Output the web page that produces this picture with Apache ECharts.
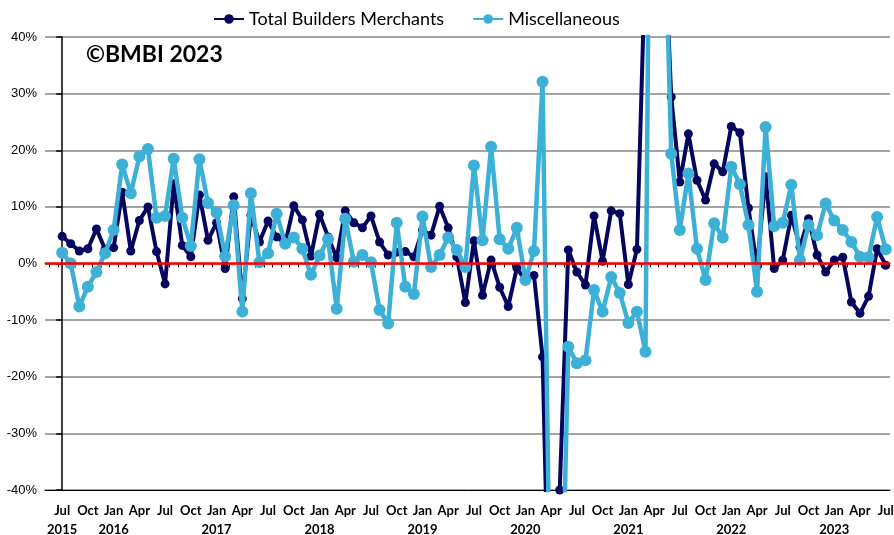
<!DOCTYPE html>
<html>
<head>
<meta charset="utf-8">
<script src="https://cdn.jsdelivr.net/npm/echarts@6/dist/echarts.min.js"></script>
<style>
  html, body { margin: 0; padding: 0; background: #fff; }
  #chart { width: 894px; height: 535px; }
</style>
</head>
<body>
<div id="chart"></div>
<script>
// month names, first point is Jul 2015
const monthNames = ['Jul', 'Aug', 'Sep', 'Oct', 'Nov', 'Dec', 'Jan', 'Feb', 'Mar', 'Apr', 'May', 'Jun']
const firstYear = 2015
const yTicks = [-40, -30, -20, -10, 0, 10, 20, 30, 40]

// year-on-year change, %
const totalBM = [
  4.8, 3.5, 2.2, 2.6, 6.1, 2.5, 2.8, 12.6, 2.2, 7.6, 10.0, 2.1,
  -3.6, 14.1, 3.2, 1.2, 12.1, 4.1, 7.2, -0.9, 11.8, -6.2, 8.5, 3.8,
  7.5, 4.7, 3.5, 10.2, 7.7, 1.3, 8.7, 4.7, 1.0, 9.3, 7.2, 6.3,
  8.4, 3.8, 1.5, 2.0, 2.1, 1.2, 5.9, 5.0, 10.1, 6.3, 1.2, -6.9,
  4.0, -5.6, 0.6, -4.2, -7.6, -0.8, -3.0, -2.1, -16.5, -80, -40, 2.4,
  -1.5, -3.8, 8.4, 0.4, 9.3, 8.8, -3.7, 2.5, 55, 250, 65, 29.4,
  14.4, 22.9, 14.7, 11.2, 17.6, 16.2, 24.2, 23.1, 9.8, -0.5, 15.3, -0.9,
  0.6, 8.5, 2.9, 7.9, 1.5, -1.5, 0.6, 1.1, -6.8, -8.8, -5.8, 2.6,
  -0.3
]
const misc = [
  1.9, 0.0, -7.6, -4.1, -1.5, 1.8, 5.9, 17.5, 12.4, 18.9, 20.2, 8.1,
  8.4, 18.5, 8.1, 3.1, 18.4, 10.7, 9.0, 1.3, 10.3, -8.5, 12.4, 0.2,
  1.8, 8.8, 3.5, 4.6, 2.6, -2.0, 1.4, 4.3, -8.0, 7.9, 0.3, 1.5,
  0.2, -8.2, -10.6, 7.2, -4.1, -5.4, 8.3, -0.6, 1.5, 4.6, 2.4, -0.6,
  17.3, 4.1, 20.6, 4.3, 2.6, 6.3, -2.9, 2.2, 32.1, -75, -80, -14.7,
  -17.6, -17.1, -4.7, -8.5, -2.4, -5.2, -10.5, -8.5, -15.6, 170, 75, 19.4,
  5.9, 15.9, 2.6, -2.9, 7.1, 4.6, 17.1, 14.0, 6.8, -5.0, 24.1, 6.6,
  7.2, 13.9, 0.6, 6.8, 5.0, 10.6, 7.6, 5.9, 3.8, 1.2, 1.1, 8.2,
  2.5
]

const categories = totalBM.map((_, i) => monthNames[i % 12] + ' ' + (firstYear + Math.floor((i + 6) / 12)))

const chart = echarts.init(document.getElementById('chart'))

const option = {
  animation: false,
  title: {
    text: '©BMBI 2023',
    left: 81,
    top: 38,
    textStyle: { fontFamily: 'Lato', fontSize: 23, fontWeight: 'bold', color: '#000' }
  },
  legend: {
    data: ['Total Builders Merchants', 'Miscellaneous'],
    left: 208,
    top: 5,
    itemWidth: 30,
    itemHeight: 12,
    itemGap: 28,
    textStyle: { fontFamily: 'Lato', fontSize: 18, color: '#000' }
  },
  grid: { left: 45, right: 4, top: 37, bottom: 45, containLabel: false, outerBoundsMode: 'none' },
  xAxis: [
    {
      // labels at the bottom
      type: 'value',
      min: -2,
      max: 96.5,
      interval: 1,
      axisLine: { onZero: false, lineStyle: { color: '#000', width: 1 } },
      axisTick: { show: false },
      splitLine: { show: false },
      axisLabel: {
        margin: 11,
        lineHeight: 19,
        fontFamily: 'Lato',
        fontSize: 13,
        fontWeight: 'bold',
        color: '#000',
        formatter: v => {
          if (!Number.isInteger(v) || v < 0 || v >= categories.length || v % 3 !== 0) return ''
          const [m, y] = categories[v].split(' ')
          return (v === 0 || m === 'Jan') ? m + '\n' + y : m
        }
      }
    },
    {
      // month ticks on the zero line
      type: 'value',
      min: -2,
      max: 96.5,
      interval: 1,
      position: 'bottom',
      axisLine: { onZero: true, lineStyle: { color: '#000', width: 1 } },
      axisTick: { show: false },
      minorTick: { show: true, splitNumber: 2, length: 4, lineStyle: { color: '#000', width: 1 } },
      axisLabel: { show: false },
      splitLine: { show: false }
    }
  ],
  yAxis: {
    type: 'value',
    min: yTicks[0],
    max: yTicks[yTicks.length - 1],
    interval: 10,
    axisLine: { show: true, lineStyle: { color: '#000', width: 1.5 } },
    axisTick: { show: true, length: 6, lineStyle: { color: '#000', width: 1.5 } },
    axisLabel: {
      margin: 8,
      fontFamily: 'Liberation Sans',
      fontSize: 13,
      color: '#000',
      formatter: v => v + '%'
    },
    splitLine: { lineStyle: { color: '#868686', width: 1.5 } }
  },
  series: [
    {
      name: 'Total Builders Merchants',
      type: 'line',
      data: totalBM.map((v, i) => [i, v]),
      symbol: 'circle',
      symbolSize: 9,
      showAllSymbol: true,
      itemStyle: { color: '#06065e' },
      lineStyle: { color: '#06065e', width: 4 },
      z: 2
    },
    {
      name: 'Miscellaneous',
      type: 'line',
      data: misc.map((v, i) => [i, v]),
      symbol: 'circle',
      symbolSize: 12,
      showAllSymbol: true,
      itemStyle: { color: '#3cb0d6' },
      lineStyle: { color: '#3cb0d6', width: 4.5 },
      z: 3
    },
    {
      name: 'zero',
      type: 'line',
      data: [],
      z: 5,
      markLine: {
        silent: true,
        symbol: 'none',
        label: { show: false },
        lineStyle: { color: '#ff0000', width: 2.5, type: 'solid' },
        data: [{ yAxis: 0 }]
      }
    }
  ]
}

chart.setOption(option)
</script>
</body>
</html>
